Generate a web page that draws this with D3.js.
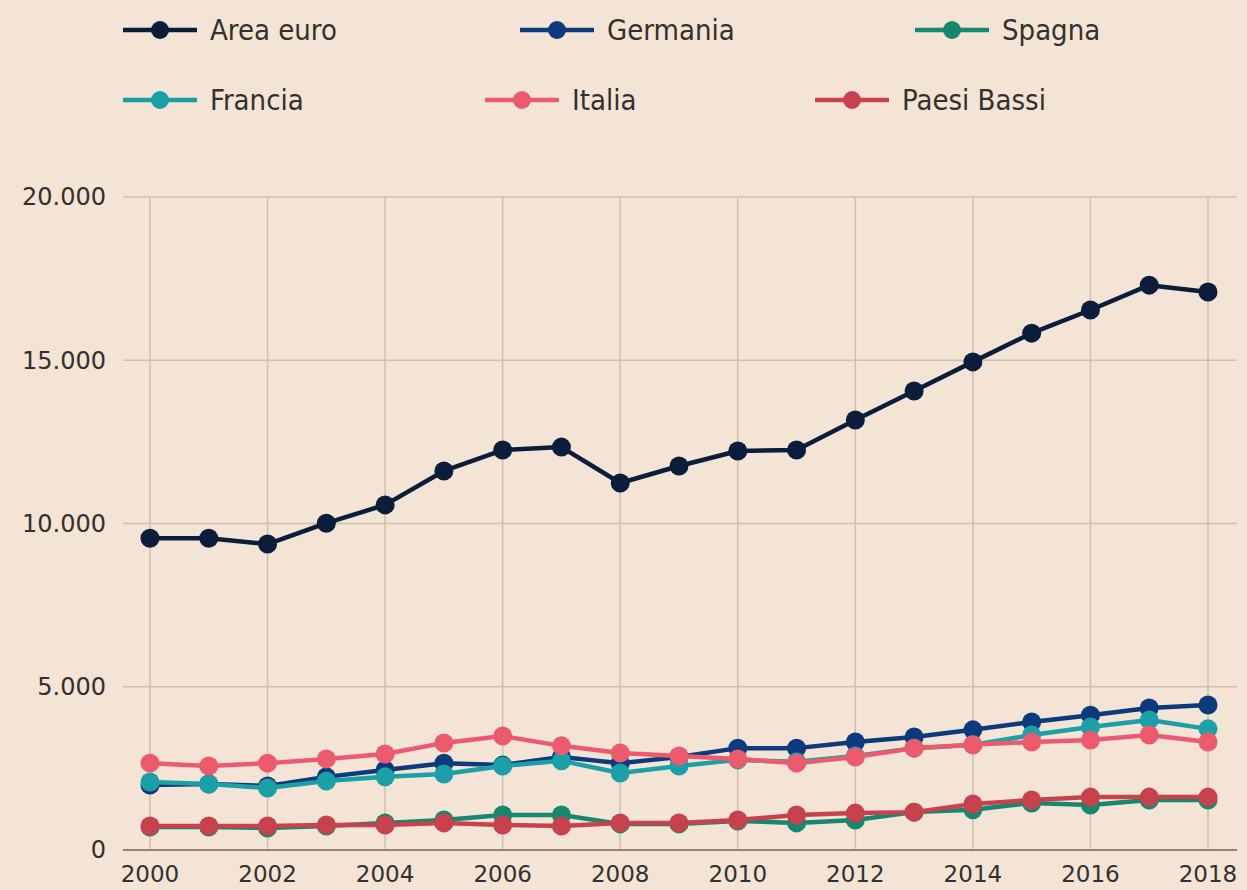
<!DOCTYPE html>
<html>
<head>
<meta charset="utf-8">
<script src="https://cdn.jsdelivr.net/npm/d3@7"></script>
<style>
  html, body { margin: 0; padding: 0; background: #f3e4d6; }
  svg { display: block; }
</style>
</head>
<body>
<div id="chart"></div>
<script>
// years on x axis
const years = d3.range(2000, 2019);
const xTicks = [2000, 2002, 2004, 2006, 2008, 2010, 2012, 2014, 2016, 2018];
const yTicks = [0, 5000, 10000, 15000, 20000];

const seriesNames = ['Area euro', 'Germania', 'Spagna', 'Francia', 'Italia', 'Paesi Bassi'];
const seriesColors = ['#0b1d3a', '#0d3a7c', '#17876f', '#1aa0a6', '#ec5a6d', '#c8424d'];

const areaEuro = [9550, 9550, 9370, 10010, 10570, 11610, 12250, 12340, 11240, 11760, 12220, 12250, 13170, 14060, 14950, 15830, 16540, 17300, 17090];
const germania = [1990, 2020, 1960, 2240, 2450, 2660, 2600, 2850, 2660, 2850, 3120, 3120, 3310, 3460, 3680, 3920, 4130, 4350, 4440];
const spagna = [705, 705, 675, 735, 830, 920, 1070, 1070, 800, 800, 890, 830, 920, 1160, 1230, 1440, 1380, 1530, 1530];
const francia = [2080, 2020, 1900, 2110, 2240, 2330, 2570, 2730, 2360, 2570, 2760, 2700, 2880, 3120, 3220, 3520, 3770, 3980, 3710];
const italia = [2660, 2570, 2660, 2790, 2940, 3280, 3490, 3190, 2970, 2880, 2790, 2660, 2850, 3120, 3220, 3310, 3370, 3520, 3310];
const paesiBassi = [735, 735, 735, 765, 765, 830, 765, 735, 830, 830, 920, 1070, 1130, 1160, 1410, 1530, 1620, 1620, 1620];

const seriesValues = [areaEuro, germania, spagna, francia, italia, paesiBassi];

// legend layout: two rows of three
const legendRows = [[0, 1, 2], [3, 4, 5]];

function lineChart() {
    const width = 1247,
        height = 890,
        margin = { top: 197, right: 39, bottom: 40, left: 150 },
        gridLeft = 123,
        bg = '#f3e4d6';

    const svg = d3.select('#chart').append('svg')
        .attr('width', width)
        .attr('height', height);

    svg.append('rect').attr('width', width).attr('height', height).attr('fill', bg);

    const x = d3.scaleLinear()
        .domain([2000, 2018])
        .range([margin.left, 1208]);

    const y = d3.scaleLinear()
        .domain([0, 20000])
        .range([850, margin.top]);

    const fmt = d => d === 0 ? '0' : d3.format(',')(d).replace(/,/g, '.');

    // horizontal grid
    svg.append('g')
        .selectAll('line')
        .data(yTicks.filter(d => d > 0))
        .join('line')
        .attr('x1', gridLeft)
        .attr('x2', width - 10)
        .attr('y1', d => y(d))
        .attr('y2', d => y(d))
        .attr('stroke', '#cdbfb1')
        .attr('stroke-width', 1.5);

    // vertical grid
    svg.append('g')
        .selectAll('line')
        .data(xTicks)
        .join('line')
        .attr('x1', d => x(d))
        .attr('x2', d => x(d))
        .attr('y1', y(20000))
        .attr('y2', y(0))
        .attr('stroke', '#cdbfb1')
        .attr('stroke-width', 1.5);

    // baseline
    svg.append('line')
        .attr('x1', gridLeft)
        .attr('x2', width - 10)
        .attr('y1', y(0))
        .attr('y2', y(0))
        .attr('stroke', '#8f857b')
        .attr('stroke-width', 2);

    // y labels
    svg.append('g')
        .selectAll('text')
        .data(yTicks)
        .join('text')
        .attr('x', 106)
        .attr('y', d => y(d))
        .attr('dy', '0.35em')
        .attr('text-anchor', 'end')
        .attr('font-family', 'DejaVu Sans, sans-serif')
        .attr('font-size', 24)
        .attr('fill', '#33302e')
        .text(fmt);

    // x labels, close to the bottom edge
    svg.append('g')
        .selectAll('text')
        .data(xTicks)
        .join('text')
        .attr('x', d => x(d))
        .attr('y', 882)
        .attr('text-anchor', 'middle')
        .attr('font-family', 'DejaVu Sans, sans-serif')
        .attr('font-size', 23)
        .attr('fill', '#33302e')
        .text(d => d);

    const line = d3.line()
        .x((d, i) => x(years[i]))
        .y(d => y(d));

    const drawOrder = [0, 1, 3, 2, 4, 5];
    drawOrder.forEach(k => {
        const g = svg.append('g');
        g.append('path')
            .datum(seriesValues[k])
            .attr('d', line)
            .attr('fill', 'none')
            .attr('stroke', seriesColors[k])
            .attr('stroke-width', 4.5)
            .attr('stroke-linejoin', 'round');
        g.selectAll('circle')
            .data(seriesValues[k])
            .join('circle')
            .attr('cx', (d, i) => x(years[i]))
            .attr('cy', d => y(d))
            .attr('r', 9.5)
            .attr('fill', seriesColors[k]);
    });

    // legend
    const legendX = [[123, 520, 915], [123, 485, 815]],
        legendY = [30, 100];
    legendRows.forEach((row, r) => {
        row.forEach((k, c) => {
            const g = svg.append('g')
                .attr('transform', `translate(${legendX[r][c]},${legendY[r]})`);
            g.append('line')
                .attr('x1', 0).attr('x2', 74)
                .attr('stroke', seriesColors[k])
                .attr('stroke-width', 4.5);
            g.append('circle')
                .attr('cx', 37).attr('r', 9)
                .attr('fill', seriesColors[k]);
            g.append('text')
                .attr('x', 87)
                .attr('dy', '0.35em')
                .attr('font-family', 'DejaVu Sans Condensed, Roboto, sans-serif')
                .attr('font-size', 29)
                .attr('fill', '#33302e')
                .text(seriesNames[k]);
        });
    });
}

lineChart();
</script>
</body>
</html>
